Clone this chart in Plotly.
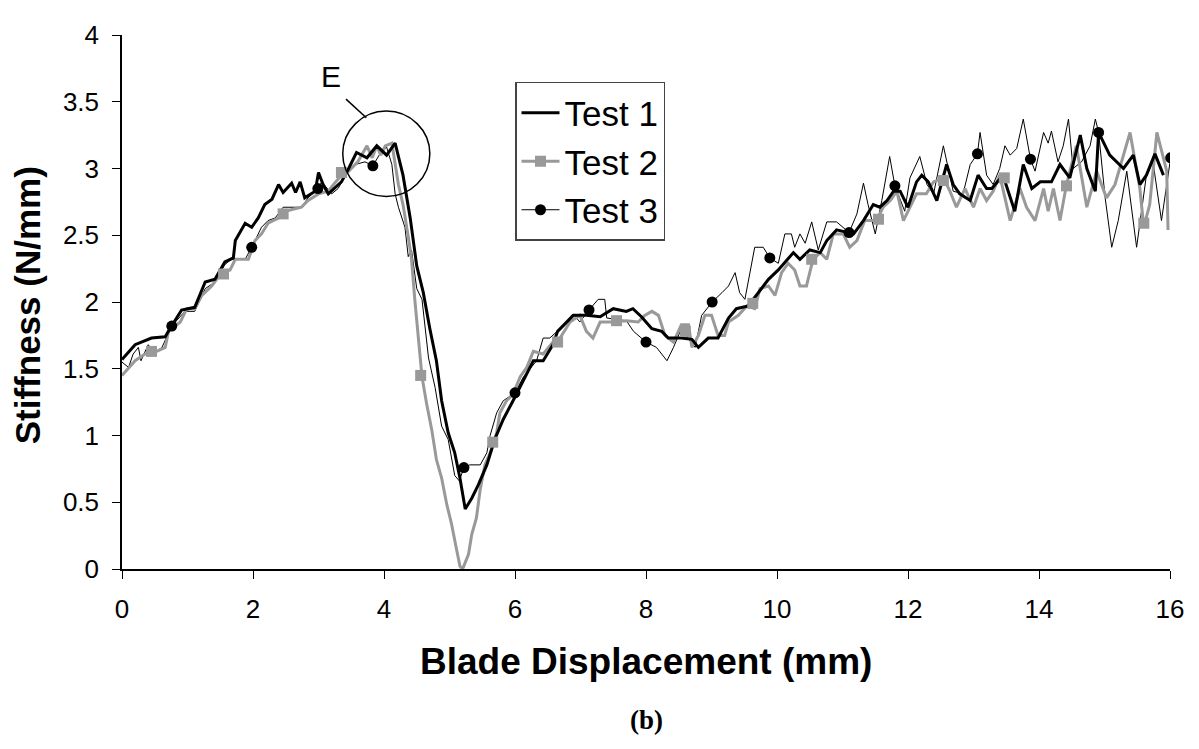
import plotly.graph_objects as go

# ---------------- data ----------------
test1_x = [0, 0.2, 0.45, 0.66, 0.73, 0.91, 1.11, 1.27, 1.42, 1.57, 1.70, 1.73, 1.88, 1.98, 2.08, 2.18,
           2.29, 2.39, 2.46, 2.59, 2.65, 2.72, 2.79, 2.95, 3.0, 3.07, 3.15, 3.35, 3.46, 3.58, 3.74, 3.89,
           4.04, 4.17, 4.29, 4.40, 4.50, 4.60, 4.70, 4.80, 4.88, 4.98, 5.08, 5.16, 5.24, 5.34, 5.44, 5.57,
           5.69, 5.82, 5.97, 6.13, 6.28, 6.43, 6.58, 6.65, 6.89, 7.09, 7.30, 7.5, 7.70, 7.8, 7.93, 8.09,
           8.24, 8.34, 8.54, 8.70, 8.80, 8.95, 9.10, 9.26, 9.38, 9.56, 9.72, 9.87, 10.02, 10.17, 10.25,
           10.35, 10.5, 10.66, 10.76, 10.91, 11.17, 11.32, 11.47, 11.57, 11.68, 11.78, 11.88, 12.0, 12.13,
           12.21, 12.31, 12.44, 12.59, 12.69, 12.79, 12.95, 13.07, 13.2, 13.28, 13.45, 13.63, 13.76, 13.89,
           14.02, 14.19, 14.32, 14.47, 14.63, 14.73, 14.86, 14.91, 15.08, 15.29, 15.44, 15.54, 15.64,
           15.77, 15.9]
test1_y = [1.57, 1.68, 1.73, 1.74, 1.80, 1.94, 1.96, 2.15, 2.17, 2.30, 2.33, 2.46, 2.59, 2.56, 2.63, 2.73,
           2.77, 2.88, 2.82, 2.89, 2.82, 2.90, 2.78, 2.83, 2.97, 2.88, 2.81, 2.90, 3.00, 3.12, 3.08, 3.17,
           3.10, 3.19, 2.95, 2.63, 2.27, 2.07, 1.80, 1.56, 1.26, 1.02, 0.87, 0.68, 0.45, 0.53, 0.63, 0.78,
           0.97, 1.12, 1.26, 1.41, 1.56, 1.56, 1.68, 1.78, 1.90, 1.90, 1.89, 1.95, 1.93, 1.95, 1.89, 1.80,
           1.78, 1.73, 1.73, 1.72, 1.66, 1.73, 1.73, 1.88, 1.95, 1.97, 2.07, 2.17, 2.24, 2.32, 2.37,
           2.32, 2.39, 2.37, 2.46, 2.54, 2.51, 2.61, 2.73, 2.71, 2.76, 2.83, 2.83, 2.71, 2.90,
           2.95, 2.90, 2.76, 3.03, 2.88, 2.81, 2.76, 2.95, 2.85, 2.85, 2.95, 2.68, 3.03, 2.85,
           2.90, 2.90, 3.03, 2.93, 3.25, 3.00, 2.83, 3.27, 3.10, 3.00, 3.10, 2.88, 2.95,
           3.11, 2.95]

test2_x = [0, 0.2, 0.35, 0.53, 0.66, 0.71, 0.89, 0.99, 1.11, 1.22, 1.37, 1.52, 1.65, 1.73, 1.93, 2.03,
           2.13, 2.23, 2.39, 2.49, 2.74, 2.84, 3.0, 3.15, 3.23, 3.35, 3.46, 3.6, 3.74, 3.82, 3.89, 3.95,
           4.02, 4.12, 4.22, 4.29, 4.37, 4.42, 4.47, 4.52, 4.58, 4.65, 4.73, 4.80, 4.88, 4.96, 5.03, 5.11,
           5.16, 5.2, 5.29, 5.34, 5.41, 5.47, 5.54, 5.62, 5.72, 5.77, 5.87, 5.97, 6.08, 6.18, 6.28, 6.43,
           6.58, 6.65, 6.84, 6.99, 7.09, 7.19, 7.30, 7.5, 7.70, 7.88, 7.98, 8.09, 8.19, 8.29, 8.42, 8.54,
           8.65, 8.70, 8.80, 8.90, 9.0, 9.10, 9.2, 9.26, 9.41, 9.54, 9.66, 9.74, 9.87, 9.97, 10.07, 10.17,
           10.27, 10.35, 10.45, 10.55, 10.66, 10.76, 10.86, 11.01, 11.11, 11.22, 11.34, 11.52, 11.62,
           11.73, 11.83, 11.93, 12.03, 12.13, 12.28, 12.39, 12.54, 12.64, 12.74, 12.87, 13.0, 13.1, 13.2,
           13.3, 13.4, 13.56, 13.71, 13.81, 13.94, 14.07, 14.14, 14.22, 14.32, 14.42, 14.57, 14.73, 14.88,
           15.03, 15.16, 15.39, 15.54, 15.6, 15.69, 15.8, 15.95, 15.97]
test2_y = [1.45, 1.56, 1.61, 1.63, 1.66, 1.78, 1.85, 1.95, 1.95, 2.05, 2.12, 2.22, 2.24, 2.32, 2.32, 2.46,
           2.51, 2.59, 2.63, 2.68, 2.71, 2.76, 2.81, 2.83, 2.88, 2.95, 2.98, 3.05, 3.17, 3.08, 3.17, 3.10,
           3.17, 3.19, 2.88, 2.73, 2.49, 2.32, 2.02, 1.75, 1.44, 1.24, 1.04, 0.82, 0.68, 0.48, 0.34, 0.14,
           0.02, 0.0, 0.11, 0.26, 0.38, 0.60, 0.78, 0.87, 1.02, 1.17, 1.26, 1.31, 1.44, 1.51, 1.63, 1.61,
           1.70, 1.70, 1.85, 1.90, 1.78, 1.73, 1.85, 1.85, 1.86, 1.85, 1.90, 1.93, 1.90, 1.75, 1.70, 1.83,
           1.83, 1.66, 1.75, 1.90, 1.90, 1.75, 1.75, 1.85, 1.90, 1.97, 1.95, 2.10, 2.12, 2.05, 2.22, 2.29,
           2.24, 2.12, 2.12, 2.32, 2.37, 2.32, 2.51, 2.51, 2.41, 2.46, 2.61, 2.61, 2.71,
           2.76, 2.83, 2.61, 2.71, 2.81, 2.81, 2.90, 2.93, 2.83, 2.71, 2.85, 2.71, 2.85, 2.76,
           2.83, 2.95, 2.61, 2.85, 2.71, 2.61, 2.85, 2.68, 2.85, 2.61, 2.88, 3.17, 2.71, 2.98,
           2.78, 2.88, 3.27, 2.85, 2.56, 2.73, 3.27, 2.98, 2.54]

test3_x = [0, 0.1, 0.17, 0.25, 0.29, 0.4, 0.5, 0.61, 0.76, 0.96, 1.11, 1.27, 1.42, 1.57, 1.67, 1.88, 1.98,
           2.13, 2.23, 2.34, 2.46, 2.74, 2.84, 2.99, 3.05, 3.2, 3.30, 3.46, 3.56, 3.71, 3.83, 3.95, 4.04,
           4.12, 4.17, 4.22, 4.32, 4.37, 4.42, 4.50, 4.58, 4.68, 4.78, 4.88, 4.98, 5.08, 5.15, 5.22, 5.31,
           5.47, 5.57, 5.62, 5.72, 5.82, 6.0, 6.13, 6.33, 6.43, 6.53, 6.69, 6.89, 6.99, 7.13, 7.27, 7.37,
           7.40, 7.70, 7.81, 8.0, 8.16, 8.32, 8.42, 8.54, 8.65, 8.75, 8.85, 9.01, 9.16, 9.26, 9.36, 9.43,
           9.51, 9.66, 9.79, 9.89, 10.02, 10.12, 10.22, 10.27, 10.35, 10.43, 10.53, 10.63, 10.76, 10.91,
           11.1, 11.22, 11.32, 11.39, 11.5, 11.6, 11.72, 11.8, 11.95, 12.03, 12.18, 12.29, 12.39, 12.54,
           12.69, 12.84, 12.95, 13.06, 13.1, 13.2, 13.3, 13.4, 13.48, 13.56, 13.66, 13.76, 13.87, 13.94,
           14.07, 14.14, 14.19, 14.29, 14.37, 14.45, 14.52, 14.65, 14.78, 14.86, 14.91, 15.01, 15.11,
           15.21, 15.34, 15.49, 15.64, 15.74, 15.87, 16.01]
test3_y = [1.55, 1.51, 1.61, 1.66, 1.56, 1.68, 1.62, 1.66, 1.82, 1.93, 1.93, 2.10, 2.15, 2.28, 2.32, 2.32, 2.41,
           2.56, 2.61, 2.63, 2.71, 2.71, 2.78, 2.85, 2.90, 2.81, 2.85, 2.99, 3.03, 3.05, 3.02, 3.12, 3.16,
           3.03, 2.81, 2.71, 2.56, 2.34, 2.39, 2.10, 2.02, 1.58, 1.36, 1.07, 0.97, 0.70, 0.66, 0.76, 0.78,
           0.78, 0.87, 1.00, 1.17, 1.26, 1.32, 1.44, 1.56, 1.73, 1.73, 1.80, 1.91, 1.85, 1.94, 2.02, 2.02,
           1.88, 1.86, 1.78, 1.70, 1.66, 1.56, 1.66, 1.80, 1.73, 1.66, 1.90, 2.00, 2.07, 2.12, 2.22, 2.07,
           2.02, 2.41, 2.41, 2.33, 2.29, 2.51, 2.51, 2.41, 2.51, 2.44, 2.60, 2.39, 2.60, 2.60,
           2.52, 2.66, 2.89, 2.73, 2.51, 2.76, 3.09, 2.87, 2.68, 2.93, 3.09, 2.88, 2.81, 3.17,
           2.83, 2.81, 3.03, 3.11, 3.27, 2.95, 2.88, 3.00, 3.17, 3.10, 3.15, 3.37, 3.07, 2.98,
           3.27, 3.19, 3.28, 3.05, 3.17, 3.37, 3.00, 3.05, 3.17, 3.37, 3.27, 2.78, 2.41,
           2.61, 2.98, 2.41, 2.95, 3.05, 2.61, 3.08]

# marker positions (sparse symbols along the curves)
test2_mark_x = [0.45, 1.55, 2.46, 3.35, 4.56, 5.66, 6.65, 7.55, 8.6, 9.63, 10.53, 11.55, 12.54, 13.47, 14.42, 15.6]
test2_mark_y = [1.63, 2.21, 2.66, 2.97, 1.45, 0.95, 1.70, 1.86, 1.78, 1.99, 2.32, 2.62, 2.91, 2.93, 2.87, 2.59]
test3_mark_x = [0.76, 1.98, 2.99, 3.83, 5.22, 6.0, 7.13, 8.0, 9.01, 9.89, 11.1, 11.8, 13.06, 13.87, 14.91, 16.01]
test3_mark_y = [1.82, 2.41, 2.85, 3.02, 0.76, 1.32, 1.94, 1.70, 2.00, 2.33, 2.52, 2.87, 3.11, 3.07, 3.27, 3.08]

series_names = ["Test 1", "Test 2", "Test 3"]
x_ticks = [0, 2, 4, 6, 8, 10, 12, 14, 16]
y_ticks = [0, 0.5, 1, 1.5, 2, 2.5, 3, 3.5, 4]

GRAY = "#999999"
FONT = "Liberation Sans, Arial, sans-serif"

fig = go.Figure()

# curves
fig.add_trace(go.Scatter(x=test3_x, y=test3_y, mode="lines", line=dict(color="black", width=1),
                         showlegend=False, hoverinfo="skip"))
fig.add_trace(go.Scatter(x=test2_x, y=test2_y, mode="lines", line=dict(color=GRAY, width=3),
                         showlegend=False, hoverinfo="skip"))
fig.add_trace(go.Scatter(x=test1_x, y=test1_y, mode="lines", line=dict(color="black", width=3),
                         showlegend=False, hoverinfo="skip"))
# markers
fig.add_trace(go.Scatter(x=test2_mark_x, y=test2_mark_y, mode="markers",
                         marker=dict(symbol="square", size=11, color=GRAY), showlegend=False))
fig.add_trace(go.Scatter(x=test3_mark_x, y=test3_mark_y, mode="markers",
                         marker=dict(symbol="circle", size=11, color="black"), showlegend=False))

# legend entries
fig.add_trace(go.Scatter(x=[None], y=[None], mode="lines", name=series_names[0],
                         line=dict(color="black", width=3)))
fig.add_trace(go.Scatter(x=[None], y=[None], mode="lines+markers", name=series_names[1],
                         line=dict(color=GRAY, width=3), marker=dict(symbol="square", size=11, color=GRAY)))
fig.add_trace(go.Scatter(x=[None], y=[None], mode="lines+markers", name=series_names[2],
                         line=dict(color="black", width=1), marker=dict(symbol="circle", size=11, color="black")))

# circle annotation "E"
fig.add_shape(type="circle", xref="x", yref="y", x0=3.37, x1=4.70, y0=2.79, y1=3.43,
              line=dict(color="black", width=1.5))
fig.add_shape(type="line", xref="x", yref="y", x0=3.42, y0=3.52, x1=3.73, y1=3.38,
              line=dict(color="black", width=1.5))
fig.add_annotation(x=3.19, y=3.69, xref="x", yref="y", text="E", showarrow=False,
                   xanchor="center", yanchor="middle",
                   font=dict(family=FONT, size=30, color="black"))

# axis titles and caption
fig.add_annotation(x=-0.0906, y=0.494, xref="paper", yref="paper", text="<b>Stiffness (N/mm)</b>",
                   textangle=-90, showarrow=False, xanchor="center", yanchor="middle",
                   font=dict(family=FONT, size=35, color="black"))
fig.add_annotation(x=0.5, y=-0.1725, xref="paper", yref="paper", text="<b>Blade Displacement (mm)</b>",
                   showarrow=False, xanchor="center", yanchor="middle",
                   font=dict(family=FONT, size=37, color="black"))
fig.add_annotation(x=0.5, y=-0.283, xref="paper", yref="paper", text="<b>(b)</b>",
                   showarrow=False, xanchor="center", yanchor="middle",
                   font=dict(family="Liberation Serif, Times New Roman, serif", size=27, color="black"))

# page body has an 8px default margin, so the figure is sized to fit the window
fig.update_layout(
    width=1191, height=741,
    margin=dict(l=114, r=29, t=16, b=180),
    paper_bgcolor="white", plot_bgcolor="white",
    font=dict(family=FONT, color="black"),
    legend=dict(x=0.375, y=0.912, xanchor="left", yanchor="top",
                bordercolor="#444444", borderwidth=1.5, bgcolor="white",
                font=dict(family=FONT, size=35, color="black"),
                tracegroupgap=0, itemwidth=38),
)
fig.update_xaxes(range=[0, 16], tickvals=x_ticks, ticks="outside", ticklen=8, tickcolor="black",
                 showline=True, linecolor="black", linewidth=1.5, showgrid=False, zeroline=False,
                 ticklabelstandoff=8, tickfont=dict(size=26, family=FONT))
fig.update_yaxes(range=[0, 4], tickvals=y_ticks, ticks="outside", ticklen=8, tickcolor="black",
                 showline=True, linecolor="black", linewidth=1.5, showgrid=False, zeroline=False,
                 ticklabelstandoff=8, tickfont=dict(size=26, family=FONT))

fig.write_html("out.html")
